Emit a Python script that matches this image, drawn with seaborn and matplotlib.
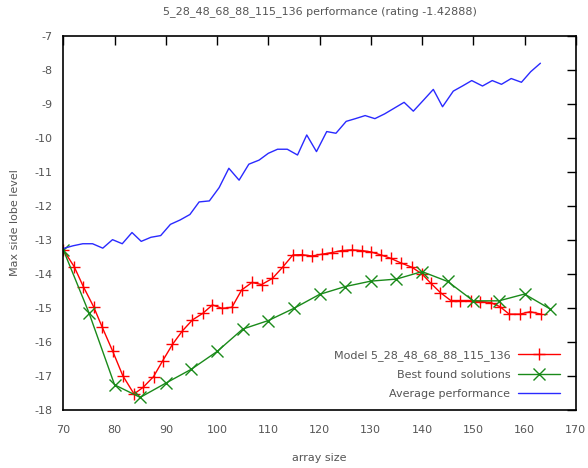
import matplotlib
matplotlib.use("Agg")
import matplotlib.pyplot as plt
import seaborn as sns
import pandas as pd

# ---- data ----
model_x = [70, 72.1, 73.9, 75.9, 77.6, 79.6, 81.6, 83.8, 85.6, 87.6, 89.4, 91.3,
           93.2, 95.2, 97.2, 99.1, 101.0, 102.9, 104.8, 106.8, 108.7, 110.8, 112.8,
           114.8, 116.5, 118.5, 120.4, 122.4, 124.3, 126.3, 128.2, 130.0, 132.0,
           133.9, 135.8, 138.0, 140.0, 141.7, 143.6, 145.6, 147.5, 149.5, 151.4,
           153.4, 155.2, 157.0, 159.1, 161.1, 163.2]
model_y = [-13.29, -13.78, -14.37, -14.96, -15.57, -16.26, -16.99, -17.53, -17.33,
           -17.02, -16.55, -16.07, -15.68, -15.35, -15.16, -14.91, -15.01, -14.98,
           -14.47, -14.25, -14.31, -14.13, -13.80, -13.44, -13.43, -13.47, -13.42,
           -13.37, -13.31, -13.29, -13.31, -13.35, -13.44, -13.54, -13.67, -13.80,
           -14.00, -14.27, -14.55, -14.78, -14.78, -14.78, -14.81, -14.84, -14.96,
           -15.18, -15.18, -15.11, -15.18]

best_x = [70, 75, 80, 85, 90, 95, 100, 105, 110, 115, 120, 125, 130, 135, 140,
          145, 150, 155, 160, 165]
best_y = [-13.29, -15.14, -17.26, -17.63, -17.21, -16.80, -16.28, -15.62, -15.37,
          -15.01, -14.60, -14.37, -14.21, -14.15, -13.93, -14.22, -14.79, -14.79,
          -14.59, -15.03]

avg_x = [70, 71.9, 73.8, 75.7, 77.7, 79.6, 81.5, 83.4, 85.2, 87.1, 89.0, 90.9,
         92.8, 94.7, 96.5, 98.5, 100.4, 102.3, 104.3, 106.2, 108.2, 110.0, 111.8,
         113.7, 115.7, 117.5, 119.4, 121.4, 123.2, 125.2, 127.0, 128.9, 130.8,
         132.7, 134.6, 136.5, 138.3, 140.2, 142.2, 144.0, 146.1, 148.0, 149.7,
         151.8, 153.7, 155.5, 157.4, 159.4, 161.2, 163.1]
avg_y = [-13.25, -13.17, -13.11, -13.11, -13.24, -12.99, -13.11, -12.78, -13.04,
         -12.92, -12.87, -12.54, -12.41, -12.25, -11.88, -11.85, -11.46, -10.89,
         -11.24, -10.77, -10.65, -10.45, -10.33, -10.33, -10.50, -9.91, -10.40,
         -9.81, -9.86, -9.51, -9.43, -9.34, -9.43, -9.29, -9.12, -8.95, -9.21,
         -8.90, -8.57, -9.08, -8.62, -8.46, -8.31, -8.47, -8.31, -8.42, -8.25,
         -8.36, -8.05, -7.80]

x_ticks = [70, 80, 90, 100, 110, 120, 130, 140, 150, 160, 170]
y_ticks = [-18, -17, -16, -15, -14, -13, -12, -11, -10, -9, -8, -7]

title = "5_28_48_68_88_115_136 performance (rating -1.42888)"
label_model = "Model 5_28_48_68_88_115_136"
label_best = "Best found solutions"
label_avg = "Average performance"

# ---- plotting ----
sns.set_style("white")
plt.rcParams['font.family'] = ['DejaVu Sans']
text_col = "#555555"
red = "#ff0000"
green = "#1a8a1a"
blue = "#2a2aff"

fig = plt.figure(figsize=(5.88, 4.68), dpi=100)
ax = fig.add_axes([0.1077, 0.124, 0.8715, 0.799])

df_m = pd.DataFrame({"x": model_x, "y": model_y})
df_b = pd.DataFrame({"x": best_x, "y": best_y})
df_a = pd.DataFrame({"x": avg_x, "y": avg_y})

sns.lineplot(data=df_m, x="x", y="y", ax=ax, color=red, lw=1.0,
             marker="+", markersize=9, markeredgewidth=1.0,
             markeredgecolor=red, markerfacecolor=red, sort=False,
             label=label_model)
sns.lineplot(data=df_b, x="x", y="y", ax=ax, color=green, lw=1.0,
             marker="x", markersize=8, markeredgewidth=1.0,
             markeredgecolor=green, markerfacecolor=green, sort=False,
             label=label_best)
sns.lineplot(data=df_a, x="x", y="y", ax=ax, color=blue, lw=1.0,
             sort=False, label=label_avg)

ax.set_xlim(70, 170)
ax.set_ylim(-18, -7)
ax.set_xticks(x_ticks)
ax.set_yticks(y_ticks)
ax.set_xticklabels([str(t) for t in x_ticks])
ax.set_yticklabels([str(t) for t in y_ticks])
ax.tick_params(direction="in", length=6.5, width=1.0, top=True, right=True,
               labelsize=8, colors="black")
ax.tick_params(axis="x", pad=11, labelcolor=text_col)
ax.tick_params(axis="y", pad=8, labelcolor=text_col)
for s in ax.spines.values():
    s.set_visible(True)
    s.set_color("black")
    s.set_linewidth(1.2)

ax.set_xlabel("array size", fontsize=8, color=text_col, labelpad=13)
ax.set_ylabel("Max side lobe level", fontsize=8, color=text_col, labelpad=10)
ax.set_title(title, fontsize=8, color=text_col, pad=16)

leg = ax.legend(loc="lower right", bbox_to_anchor=(0.97, 0.03), frameon=False,
                markerfirst=False, fontsize=8, handlelength=3.8,
                handletextpad=0.7, labelspacing=0.8, borderaxespad=0,
                borderpad=0)
for t in leg.get_texts():
    t.set_color(text_col)

fig.savefig("out.png", dpi=100)
